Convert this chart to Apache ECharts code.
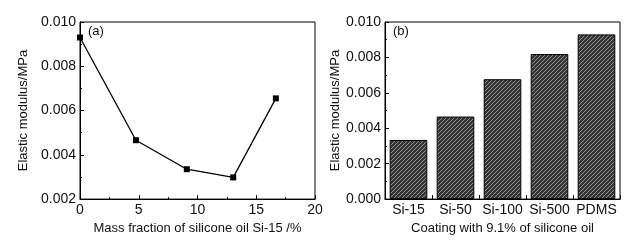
<!DOCTYPE html>
<html>
<head>
<meta charset="utf-8">
<script src="https://cdn.jsdelivr.net/npm/echarts@6/dist/echarts.min.js"></script>
<style>
  html, body { margin: 0; padding: 0; background: #fff; }
  #chart { width: 637px; height: 240px; }
</style>
</head>
<body>
<div id="chart"></div>
<script>
// ============ 数据 ============
// (a) 质量分数 vs 弹性模量
const massFraction = [0, 4.76, 9.09, 13.04, 16.67]
const modulusA = [0.0093, 0.00466, 0.00335, 0.00298, 0.00655]

// (b) 不同硅油涂层
const coatings = ['Si-15', 'Si-50', 'Si-100', 'Si-500', 'PDMS']
const modulusB = [0.00334, 0.00466, 0.00677, 0.00819, 0.00930]

const FONT = 'Liberation Sans, Arial, sans-serif'
const TEXT = '#111'

// 斜线填充图案
function makeHatch() {
  const c = document.createElement('canvas')
  c.width = 4
  c.height = 4
  const ctx = c.getContext('2d')
  ctx.fillStyle = '#353535'
  ctx.fillRect(0, 0, 4, 4)
  ctx.strokeStyle = '#909090'
  ctx.lineWidth = 1
  ctx.beginPath()
  ctx.moveTo(-1, 5)
  ctx.lineTo(5, -1)
  ctx.moveTo(-1, 1)
  ctx.lineTo(1, -1)
  ctx.moveTo(3, 5)
  ctx.lineTo(5, 3)
  ctx.stroke()
  return c
}

const axisCommon = {
  axisLine: { show: true, lineStyle: { color: '#000', width: 1 } },
  axisTick: { show: true, inside: true, length: 4, lineStyle: { color: '#000' } },
  minorTick: { show: true, splitNumber: 2, length: 2, lineStyle: { color: '#000' } },
  axisLabel: { color: TEXT, fontFamily: FONT, fontSize: 14, margin: 4 },
  splitLine: { show: false },
  nameTextStyle: { color: TEXT, fontFamily: FONT, fontSize: 13 },
  nameLocation: 'middle'
}

const chart = echarts.init(document.getElementById('chart'))

chart.setOption({
  animation: false,
  backgroundColor: '#fff',
  grid: [
    { left: 80, right: 322, top: 22, bottom: 40, show: true, borderColor: '#000', borderWidth: 1 },
    { left: 385, right: 17, top: 22, bottom: 40, show: true, borderColor: '#000', borderWidth: 1 }
  ],
  graphic: [
    { type: 'text', left: 88, top: 25, style: { text: '(a)', font: '13px ' + FONT, fill: TEXT } },
    { type: 'text', left: 393, top: 25, style: { text: '(b)', font: '13px ' + FONT, fill: TEXT } }
  ],
  xAxis: [
    Object.assign({}, axisCommon, {
      type: 'value', gridIndex: 0, min: 0, max: 20, interval: 5,
      name: 'Mass fraction of silicone oil Si-15 /%', nameGap: 18
    }),
    Object.assign({}, axisCommon, {
      type: 'category', gridIndex: 1, data: coatings,
      axisTick: { show: true, inside: true, length: 4, alignWithLabel: false, lineStyle: { color: '#000' } },
      axisLabel: Object.assign({}, axisCommon.axisLabel, { interval: 0 }),
      minorTick: { show: false },
      name: 'Coating with 9.1% of silicone oil', nameGap: 16
    })
  ],
  yAxis: [
    Object.assign({}, axisCommon, {
      type: 'value', gridIndex: 0, min: 0.002, max: 0.010, interval: 0.002,
      axisLabel: Object.assign({}, axisCommon.axisLabel, { formatter: v => v.toFixed(3) }),
      name: 'Elastic modulus/MPa', nameGap: 50
    }),
    Object.assign({}, axisCommon, {
      type: 'value', gridIndex: 1, min: 0, max: 0.010, interval: 0.002,
      axisLabel: Object.assign({}, axisCommon.axisLabel, { formatter: v => v.toFixed(3) }),
      name: 'Elastic modulus/MPa', nameGap: 42
    })
  ],
  series: [
    {
      type: 'line',
      xAxisIndex: 0,
      yAxisIndex: 0,
      data: massFraction.map((x, i) => [x, modulusA[i]]),
      symbol: 'rect',
      symbolSize: 6,
      lineStyle: { color: '#000', width: 1.3 },
      itemStyle: { color: '#000' }
    },
    {
      type: 'bar',
      xAxisIndex: 1,
      yAxisIndex: 1,
      data: modulusB,
      barCategoryGap: '20%',
      itemStyle: {
        color: { image: makeHatch(), repeat: 'repeat' },
        borderColor: '#000',
        borderWidth: 1
      }
    }
  ]
})
</script>
</body>
</html>
